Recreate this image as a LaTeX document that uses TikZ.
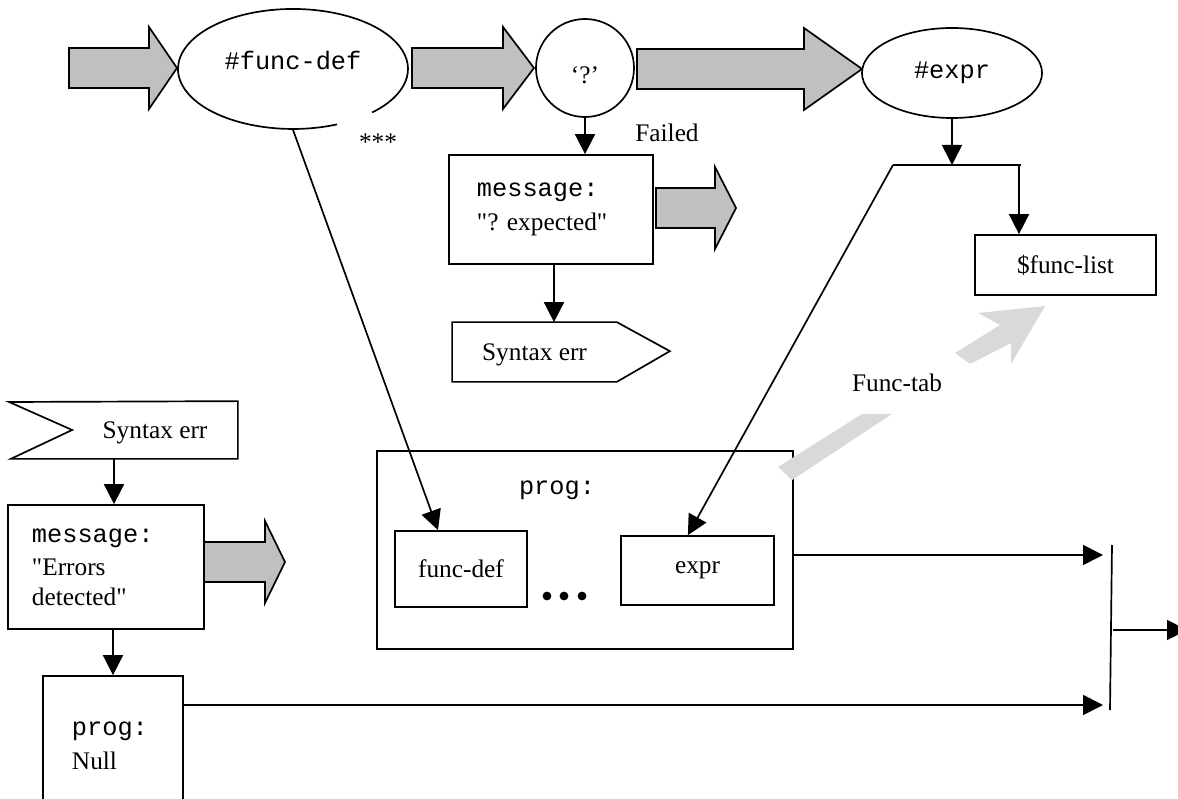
\documentclass[tikz,border=0pt]{standalone}
\usepackage{fontspec}
\setmainfont{Liberation Serif}
\setmonofont{Liberation Mono}
\usetikzlibrary{arrows.meta,calc,shapes.geometric}
\definecolor{blockgray}{RGB}{192,192,192}
\definecolor{tabgray}{RGB}{217,217,217}
\def\blockarrow(#1:#2:#3:#4){\draw[fill=blockgray] (#1,#4-20) -- (#2,#4-20) -- (#2,#4-41) -- (#3,#4) -- (#2,#4+41) -- (#2,#4+20) -- (#1,#4+20) -- cycle}
\frenchspacing

\begin{document}
\begin{tikzpicture}[x=0.025cm, y=-0.025cm, font=\fontsize{18}{21}\selectfont, line width=1.2pt,
		box/.style={draw, rectangle, inner sep=0pt},
		flag/.style={rectangle, inner sep=0pt, text height=1.4em, text depth=0.22em},
		arr/.style={-{Triangle[width=0.5cm,length=0.5cm]}}]
			%%%%% START %%%%%
			
			\useasboundingbox (0,0) rectangle (1178,799);
			
			% top row
			\node[ellipse, minimum width=5.75cm, minimum height=3cm] (fdef) at (293,69) {};
			\node (fdeftxt) at (293,60) {\texttt{\#func-def}};
			\draw ($(fdef.center)+(44,55.4)$) arc[start angle=67.5, end angle=406.5, x radius=115, y radius=60];
			\node[circle, draw, minimum size=2.45cm, inner sep=0pt] (qmark) at (585,68) {};
			\node (qmarktxt) at (585,75) {`?'};
			\node[ellipse, draw, minimum width=4.5cm, minimum height=2.25cm, inner sep=0pt] (expr) at (952,73) {\texttt{\#expr}};
			
			\blockarrow(69:149:177:68);
			\blockarrow(412:503:534:68);
			\blockarrow(637:804:862:69);
			
			\node (stars) at (378,142) {***};
			\node (failed) at (667,133) {Failed};
			
			% '?' failed
			\node[box, minimum width=5.1cm, minimum height=2.725cm, inner xsep=0.7cm, text width=3.7cm, align=left] (msg1) at (551,209.5) {\texttt{message:}\\[3pt]\textquotedbl? expected\textquotedbl};
			\draw[arr] (qmark.south) -- (msg1.north -| qmark.south);
			\blockarrow(656:715:736:208);
			
			\node[flag, minimum width=4.075cm, minimum height=1.45cm] (syn1) at (534.5,352) {Syntax err};
			\draw (syn1.north west) -- (syn1.north east) -- ++(53,29) -- (syn1.south east) -- (syn1.south west) -- cycle;
			\draw[arr] ([xshift=0.075cm]msg1.south) -- ([xshift=0.075cm]msg1.south |- syn1.north);
			
			% #expr
			\coordinate (jl) at (893,165);
			\coordinate (jr) at (1021,165);
			\node[box, minimum width=4.525cm, minimum height=1.5cm] (flist) at (1065.5,265) {\$func-list};
			\draw[arr] (expr.south) -- (expr.south |- jl);
			\draw (jl) -- (jr);
			\draw[arr] ([xshift=-0.05cm]jr) -- ([xshift=-0.05cm]jr |- flist.north);
			
			% prog
			\node[box, minimum width=10.4cm, minimum height=4.95cm] (prog) at (585,550) {};
			\node (progtxt) at (557,490) {\texttt{prog:}};
			\node[box, minimum width=3.3cm, minimum height=1.9cm] (fdbox) at (461,569) {func-def};
			\node[box, minimum width=3.825cm, minimum height=1.725cm] (exprbox) at (697.5,570.5) {expr};
			\foreach \x in {547,564,582}
				\fill (\x,596) circle (0.11cm);
			
			\draw[arr] (fdef.south) -- ([xshift=-0.575cm]fdbox.north);
			\draw[arr] (jl) -- ([xshift=-0.24cm]exprbox.north);
			
			% Func-tab
			\fill[tabgray] (778,467) -- (862,414) -- (892,414) -- (792,480) -- cycle;
			\fill[tabgray] (955,353) -- (1000,325) -- (978,313) -- (1045,306) -- (1011,364) -- (1011,343) -- (970,364) -- cycle;
			\node (ftab) at (897,383) {Func-tab};
			
			% errors
			\node[flag, minimum width=4.1cm, minimum height=1.4cm] (syn2) at (155,430) {Syntax err\hspace{0.3cm}};
			\draw (syn2.north east) -- (syn2.south east) -- ++(-227,0) -- (syn2.west) -- ++(-63,-28) -- cycle;
			\node[box, minimum width=4.9cm, minimum height=3.1cm, inner xsep=0.6cm, text width=3.7cm, align=left] (msg2) at (106,567) {\texttt{message:}\\[3pt]\textquotedbl Errors\\detected\textquotedbl};
			\draw[arr] ([xshift=0.2cm]msg2.north |- syn2.south) -- ([xshift=0.2cm]msg2.north);
			\blockarrow(204:265:285:562);
			\node[box, minimum width=3.5cm, minimum height=3.5cm, inner xsep=0.725cm, text width=2.05cm, align=left] (pnull) at (113,746) {\texttt{prog:}\\[3pt]Null};
			\draw[arr] (pnull.north |- msg2.south) -- (pnull.north);
			
			% merge
			\coordinate (in1) at (1103,555);
			\coordinate (in2) at (1103,705);
			\coordinate (bartop) at (1112,545);
			\coordinate (barbot) at (1110,710);
			\coordinate (barmid) at (1113,630);
			\coordinate (out) at (1187,630);
			\draw[arr] (prog.east |- in1) -- (in1);
			\draw[arr] (pnull.east |- in2) -- (in2);
			\draw (bartop) -- (barbot);
			\draw[arr] (barmid) -- (out);
			
			%%%%% END %%%%%
\end{tikzpicture}
\end{document}
